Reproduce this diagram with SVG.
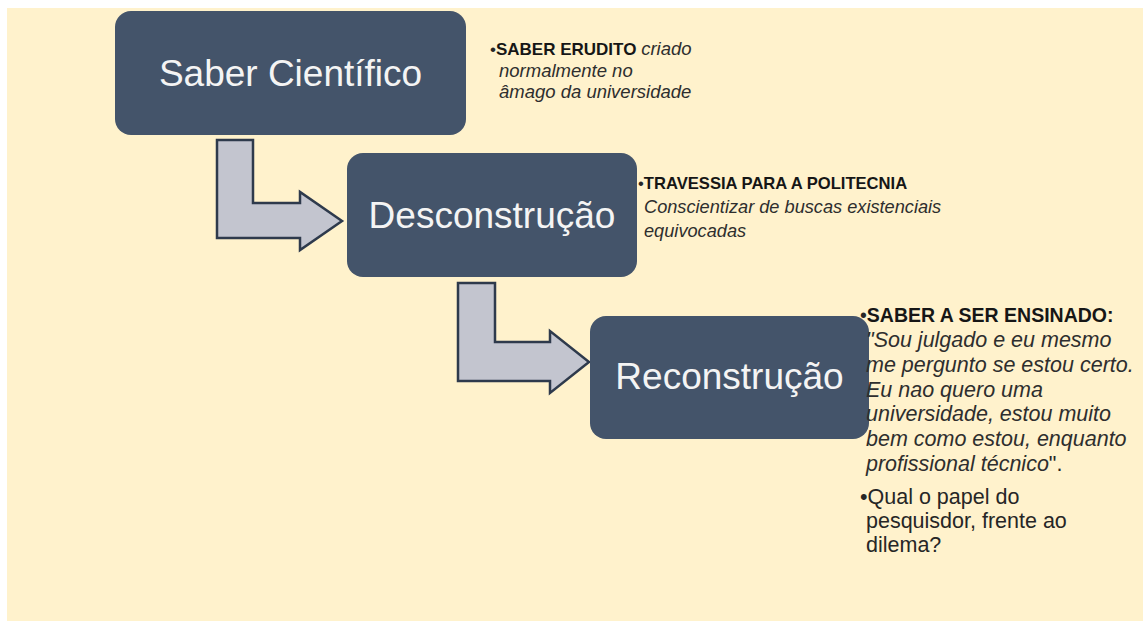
<svg xmlns="http://www.w3.org/2000/svg" width="1143" height="621" viewBox="0 0 1143 621">
  <style>
    .box { fill: #44546a; }
    .boxlabel { font-family: "Liberation Sans", Arial, sans-serif; font-size: 37px; fill: #f4f4f4; text-anchor: middle; }
    .arrow { fill: #c3c5cf; stroke: #2e3a4c; stroke-width: 2.5; stroke-linejoin: miter; }
    .note { font-family: "Liberation Sans", Arial, sans-serif; fill: #262626; }
    .b { font-weight: bold; fill: #161616; }
    .i { font-style: italic; fill: #2e2e2e; }
  </style>
  <rect x="0" y="0" width="1143" height="621" fill="#ffffff"/>
  <rect x="7" y="8" width="1136" height="613" fill="#fff2cc"/>

  <g id="connectors">
    <path class="arrow" d="M217,140 L253,140 L253,203 L300,203 L300,192 L342,221 L300,250 L300,238 L217,238 Z"/>
    <path class="arrow" d="M458,283 L495,283 L495,342 L550,342 L550,331 L589,362 L550,393 L550,381 L458,381 Z"/>
  </g>

  <g id="node-saber-cientifico">
    <rect class="box" x="115" y="11" width="351" height="124" rx="16" ry="16"/>
    <text class="boxlabel" x="290.5" y="86">Saber Científico</text>
  </g>

  <g id="node-desconstrucao">
    <rect class="box" x="347" y="153" width="290" height="124" rx="16" ry="16"/>
    <text class="boxlabel" x="492" y="228">Desconstrução</text>
  </g>

  <g id="node-reconstrucao">
    <rect class="box" x="590" y="316" width="279" height="123" rx="16" ry="16"/>
    <text class="boxlabel" x="729.5" y="389">Reconstrução</text>
  </g>

  <g id="note-saber-erudito" class="note">
    <text x="490" y="55" font-size="17"><tspan>•</tspan><tspan class="b">SABER ERUDITO</tspan> <tspan class="i" font-size="18.5">criado</tspan></text>
    <text class="i" x="499" y="77" font-size="18.5">normalmente no</text>
    <text class="i" x="499" y="98" font-size="18.5">âmago da universidade</text>
  </g>

  <g id="note-travessia" class="note">
    <text x="638" y="189" font-size="16.6"><tspan>•</tspan><tspan class="b">TRAVESSIA PARA A POLITECNIA</tspan></text>
    <text class="i" x="644" y="213" font-size="18.2">Conscientizar de buscas existenciais</text>
    <text class="i" x="644" y="237" font-size="18.2">equivocadas</text>
  </g>

  <g id="note-saber-ensinado" class="note">
    <text x="860" y="322" font-size="19.5"><tspan>•</tspan><tspan class="b">SABER A SER ENSINADO:</tspan></text>
    <text class="i" x="866" y="347" font-size="21.5">"Sou julgado e eu mesmo</text>
    <text class="i" x="866" y="372" font-size="21.5">me pergunto se estou certo.</text>
    <text class="i" x="866" y="397" font-size="21.5">Eu nao quero uma</text>
    <text class="i" x="866" y="421" font-size="21.5">universidade, estou muito</text>
    <text class="i" x="866" y="446" font-size="21.5">bem como estou, enquanto</text>
    <text x="866" y="471" font-size="21.5"><tspan class="i">profissional técnico</tspan>".</text>
    <text x="860" y="504" font-size="21.5">•Qual o papel do</text>
    <text x="866" y="528" font-size="21.5">pesquisdor, frente ao</text>
    <text x="866" y="552" font-size="21.5">dilema?</text>
  </g>
</svg>
